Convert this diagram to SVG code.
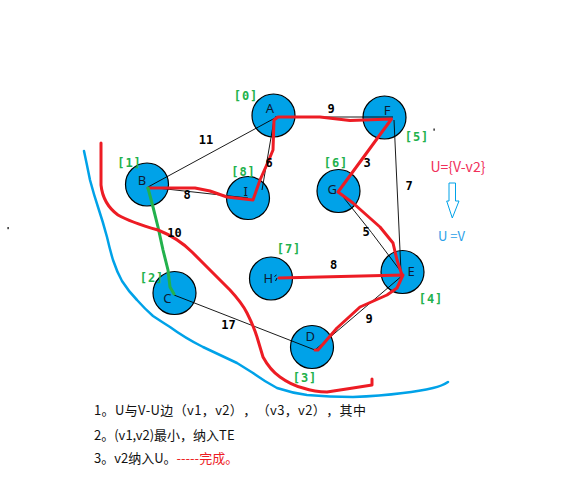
<svg xmlns="http://www.w3.org/2000/svg" width="586" height="480" viewBox="0 0 586 480">
<style>
.node{fill:#00a2e8;stroke:#000;stroke-width:1.2}
.nl{font-family:"Noto Sans","Liberation Sans",sans-serif;font-size:13px;fill:#0d1a33;text-anchor:middle}
.el{font-family:"DejaVu Sans Mono","Liberation Mono",monospace;font-weight:bold;font-size:12px;fill:#000;text-anchor:middle}
.gl{font-family:"DejaVu Sans Mono","Liberation Mono",monospace;font-weight:bold;font-size:12px;fill:#22b14c;text-anchor:middle;letter-spacing:1px}
.thin{stroke:#000;stroke-width:0.9;fill:none}
.red{stroke:#ed1c24;stroke-width:3;fill:none;stroke-linejoin:round;stroke-linecap:round}
.green{stroke:#22b14c;stroke-width:3;fill:none;stroke-linejoin:round;stroke-linecap:round}
.blue{stroke:#00a2e8;stroke-width:2.5;fill:none;stroke-linejoin:round;stroke-linecap:round}
.txt{font-family:"Noto Sans CJK SC","Noto Sans",sans-serif;font-size:13px;fill:#111;text-spacing-trim:space-all}
</style>
<rect width="586" height="480" fill="#fff"/>
<rect x="7.5" y="227" width="1.2" height="2.2" fill="#000"/>
<rect x="433.5" y="128.5" width="1.2" height="2.2" fill="#000"/>

<g id="nodes">
<g id="node-A"><circle class="node" cx="273.5" cy="115.5" r="21.5"/><text class="nl" x="270" y="113">A</text><text class="gl" x="246" y="100">[0]</text></g>
<g id="node-B"><circle class="node" cx="147" cy="184.5" r="21.5"/><text class="nl" x="142" y="184.5">B</text><text class="gl" x="129.5" y="167">[1]</text></g>
<g id="node-I"><circle class="node" cx="248" cy="198" r="21.5"/><text class="nl" x="245.7" y="196">I</text><text class="gl" x="243.5" y="176">[8]</text></g>
<g id="node-F"><circle class="node" cx="384.5" cy="117.5" r="21.5"/><text class="nl" x="387" y="114.7">F</text><text class="gl" x="417" y="140.5">[5]</text></g>
<g id="node-G"><circle class="node" cx="338.5" cy="191" r="21.5"/><text class="nl" x="332.3" y="194">G</text><text class="gl" x="336" y="166.5">[6]</text></g>
<g id="node-H"><circle class="node" cx="271" cy="278.5" r="21.5"/><text class="nl" x="268.3" y="283">H</text><path d="M274.5 276.5 L276.5 275 M275.5 281 L277 278" stroke="#000" stroke-width="1" fill="none"/><text class="gl" x="289" y="253">[7]</text></g>
<g id="node-E"><circle class="node" cx="402.5" cy="272" r="21.5"/><text class="nl" x="411" y="276">E</text><text class="gl" x="431" y="303">[4]</text></g>
<g id="node-C"><circle class="node" cx="174.5" cy="293" r="21.5"/><text class="nl" x="167.3" y="302.7">C</text><text class="gl" x="152" y="282">[2]</text></g>
<g id="node-D"><circle class="node" cx="312" cy="347" r="21.5"/><text class="nl" x="310.3" y="341.3">D</text><text class="gl" x="305" y="382">[3]</text></g>
</g>

<g id="connectors">
<path class="thin" d="M148 187 L275 118"/>
<path class="thin" d="M275 117 L393 117"/>
<path class="thin" d="M148 187 L248 198"/>
<path class="thin" d="M394 120 L401 272"/>
<path class="thin" d="M340 193 Q372 232 402 273"/>
<path class="thin" d="M174 295 L315 350"/>
<path class="thin" d="M315 350 L403 275"/>
<path class="thin" d="M262 190 L274 120"/>

<path class="red" d="M148 188 L195 188 L210 191 L227 197 L253 200 L260 180 L268 162 L273 150 L274 120 L278 117 L320 117 L350 120.5 L391.5 119 L338 192 L353 203 L380 227 L393 243 L397 260 L402 275"/>
<path class="red" d="M279 278 L403 275 L397 288 L387 295 L360 307 L337 328 L318 350 L315 350"/>
<path class="green" d="M148 188 L153 207 L158 227 L163 250 L168 270 L170 287 L174 294"/>

<path class="red" d="M101 143 L101 185 Q103 204 118 215 Q130 222 158 230 Q178 238 192 252 L205 265 L220 280 L230 290 Q242 303 247 313 Q254 327 257 337 L263 357 Q270 370 280 377 Q291 385 303 388 Q315 392 327 392 L353 388 L372 385 L372 379"/>
<path class="blue" d="M84 151 Q87 165 90 180 Q94 195 98 207 Q103 222 107 237 Q110 250 113 260 Q117 272 122 281 Q129 292 137 300 Q145 309 153 316 Q162 322 170 327 Q185 338 203 347 Q220 355 237 363 L253 373 Q264 381 277 388 Q292 393 307 395 Q330 397 353 397 Q380 396 403 393 Q420 391 433 388 Q442 386 448 382"/>

<text class="el" x="206" y="144">11</text>
<text class="el" x="187" y="199">8</text>
<text class="el" x="269" y="166.7">6</text>
<text class="el" x="174.5" y="237">10</text>
<text class="el" x="331" y="113.3">9</text>
<text class="el" x="367" y="167.3">3</text>
<text class="el" x="409" y="190">7</text>
<text class="el" x="366" y="236">5</text>
<text class="el" x="333.5" y="268.7">8</text>
<text class="el" x="228.5" y="329.3">17</text>
<text class="el" x="369" y="323.3">9</text>
</g>

<text x="430.5" y="171.5" font-family="Noto Sans CJK SC, Noto Sans, sans-serif" font-size="14" fill="#f0305a">U={V-v2}</text>
<path d="M449 183 L455.5 183 L455.5 201 L459 201 L452.3 218 L446.7 201 L449 201 Z" fill="#fff" stroke="#00a2e8" stroke-width="1"/>
<text x="438" y="240.5" font-family="Noto Sans CJK SC, Noto Sans, sans-serif" font-size="13" fill="#2aa0e8">U =V</text>

<text class="txt" x="94" y="415" textLength="272" lengthAdjust="spacing">1。U与V-U边（v1，v2），（v3，v2），其中</text>
<text class="txt" x="94" y="440">2。(v1,v2)最小，纳入TE</text>
<text class="txt" x="94" y="463">3。v2纳入U。<tspan fill="#ed1c24">-----完成。</tspan></text>
</svg>
